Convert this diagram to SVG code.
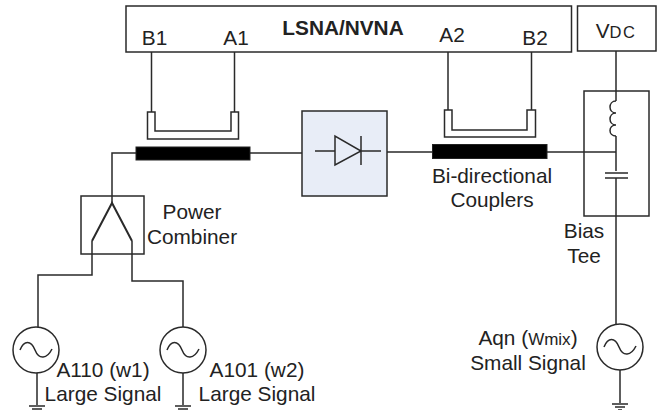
<svg xmlns="http://www.w3.org/2000/svg" width="666" height="410" viewBox="0 0 666 410">
<style>
.b{fill:#fff;stroke:#2a2a2a;stroke-width:1.5}
.w{fill:none;stroke:#2a2a2a;stroke-width:1.5}
.k{fill:#000;stroke:#222;stroke-width:1}
.t{font-family:"Liberation Sans",Arial,sans-serif;font-size:20.8px;fill:#222;text-anchor:middle}
</style>
<defs>
<g id="src"><circle r="23" class="b"/><path class="w" d="M-16 0C-12 -10 -5 -10 -1 0S11 9 16 -1"/></g>
<g id="gnd"><path class="w" d="M-8 0H8M-5 3H5M-2 6H2"/></g>
</defs>
<rect width="666" height="410" fill="#fff"/>
<g id="connectors">
<path class="w" d="M151.500 52V112M234.500 52V112M448 50V110M531.500 50V110"/>
<path class="w" d="M112 203V153H136M250 153H302M387 152H432.500M547 152H616"/>
<path class="w" d="M92 241V275H38V327M132 241V281H183V327"/>
<path class="w" d="M616 51V101M616 136V171M616 178V324"/>
<path class="w" d="M37 373V405M183 373V405M620 370V403"/>
</g>
<g id="lsna"><rect class="b" x="126" y="6" width="445.500" height="46"/>
<text class="t" x="343" y="35" style="font-weight:700">LSNA/NVNA</text>
<text class="t" x="154.500" y="45">B1</text><text class="t" x="236" y="45">A1</text>
<text class="t" x="452" y="42">A2</text><text class="t" x="535" y="45">B2</text></g>
<g id="vdc"><rect class="b" x="577.500" y="6" width="78.500" height="45"/>
<text class="t" x="616" y="38">V<tspan style="font-size:16.500px;letter-spacing:1.500px">DC</tspan></text></g>
<g id="coupler1"><rect class="k" x="136" y="147" width="114" height="13"/>
<path class="w" d="M147.500 112H155V131H231V112H238.500V139H147.500Z"/></g>
<g id="coupler2"><rect class="k" x="432.500" y="144.500" width="114.500" height="14"/>
<path class="w" d="M444.500 110H452V130H527V110H535.500V137H444.500Z"/>
<text class="t" x="492" y="183">Bi-directional</text><text class="t" x="492" y="207">Couplers</text></g>
<g id="diode"><rect x="302" y="111" width="85" height="85" fill="#e8edf7" stroke="#2a2a2a" stroke-width="1.500"/>
<path class="w" d="M315 151H335M361 151H381M361 136V165M335 136V165L361 151Z"/></g>
<g id="bias-tee"><rect x="584" y="91" width="65" height="125" fill="none" stroke="#2a2a2a" stroke-width="1.500"/>
<path class="w" d="M616 101C608 101 608 113 616 113M616 113C608 113 608 125 616 125M616 125C608 125 608 136 616 136M605 173H628M605 178H628"/>
<text class="t" x="584" y="238">Bias</text><text class="t" x="584" y="263">Tee</text></g>
<g id="combiner"><rect x="81" y="196" width="63" height="58" fill="none" stroke="#2a2a2a" stroke-width="1.500"/>
<path fill="none" stroke="#2a2a2a" stroke-width="2" d="M92 241L112 203L132 241"/>
<text class="t" x="192" y="219">Power</text><text class="t" x="192" y="244">Combiner</text></g>
<g id="source1"><use href="#src" x="36" y="350"/><use href="#gnd" x="37" y="406"/>
<text class="t" x="103" y="377">A110 (w1)</text><text class="t" x="103" y="401">Large Signal</text></g>
<g id="source2"><use href="#src" x="183" y="350"/><use href="#gnd" x="183" y="406"/>
<text class="t" x="257" y="377">A101 (w2)</text><text class="t" x="257" y="401">Large Signal</text></g>
<g id="source3"><use href="#src" x="620" y="347"/><use href="#gnd" x="620" y="404"/>
<text class="t" x="528" y="345">Aqn (<tspan style="font-size:17px">Wmix</tspan>)</text><text class="t" x="528" y="370">Small Signal</text></g>
</svg>
